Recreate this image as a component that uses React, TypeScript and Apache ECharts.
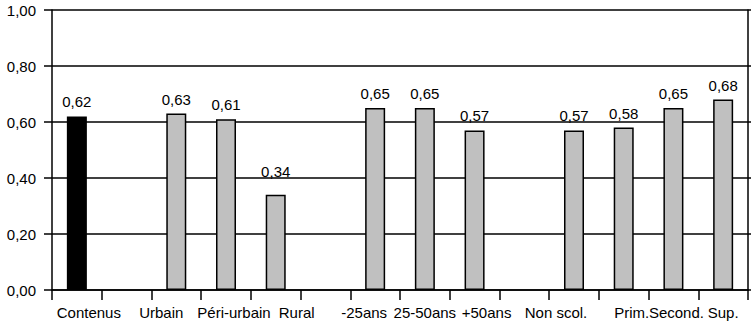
import React, { useEffect, useRef } from "react";
import * as echarts from "echarts";

const categories = [
  "Contenus", " ", "Urbain", "Péri-urbain", "Rural", "  ",
  "-25ans", "25-50ans", "+50ans", "   ",
  "Non scol.", "Prim.", "Second.", "Sup.",
];
const values: (number | null)[] = [
  0.62, null, 0.63, 0.61, 0.34, null,
  0.65, 0.65, 0.57, null,
  0.57, 0.58, 0.65, 0.68,
];
const yTicks = [0, 0.2, 0.4, 0.6, 0.8, 1.0];
// horizontal shift (px) of each category label relative to its slot centre
const labelShift = [12, 0, -15, 8, 21, 0, -11, 0, 12, 0, -18, 8, 3, 0];

const FONT = "Arial";
const FS = 15;
const fmt = (v: number) => v.toFixed(2).replace(".", ",");

export default function App() {
  const ref = useRef<HTMLDivElement>(null);
  useEffect(() => {
    document.body.style.margin = "0";
    if (!ref.current) return;
    const chart = echarts.init(ref.current, null, { renderer: "svg" });
    const rich: Record<string, any> = {};
    labelShift.forEach((s, i) => {
      rich["s" + i] = {
        fontSize: FS,
        fontFamily: FONT,
        color: "#000",
        padding: s >= 0 ? [0, 0, 0, 2 * s] : [0, -2 * s, 0, 0],
      };
    });
    chart.setOption({
      animation: false,
      backgroundColor: "#fff",
      textStyle: { fontFamily: FONT },
      grid: { left: 52, right: 5, top: 10, bottom: 36, containLabel: false },
      xAxis: {
        type: "category",
        data: categories,
        boundaryGap: true,
        axisLine: { show: true, lineStyle: { color: "#000", width: 1.5 } },
        axisTick: { show: true, length: 10, alignWithLabel: false, interval: 0, lineStyle: { color: "#000", width: 1.5 } },
        axisLabel: {
          interval: 0,
          margin: 15,
          fontFamily: FONT,
          fontSize: FS,
          formatter: (v: string, i: number) => (v.trim() === "" ? "" : `{s${i}|${v}}`),
          rich,
        },
        splitLine: { show: false },
      },
      yAxis: [
        {
          type: "value",
          min: yTicks[0],
          max: yTicks[yTicks.length - 1],
          interval: 0.2,
          position: "left",
          axisLine: { show: true, lineStyle: { color: "#000", width: 1.5 } },
          axisTick: { show: true, length: 8, lineStyle: { color: "#000", width: 1.5 } },
          axisLabel: {
            formatter: (v: number) => fmt(v),
            fontSize: FS,
            fontFamily: FONT,
            color: "#000",
            margin: 16,
          },
          splitLine: { show: true, lineStyle: { color: "#000", width: 1.5 } },
        },
        {
          type: "value",
          min: yTicks[0],
          max: yTicks[yTicks.length - 1],
          interval: 0.2,
          position: "right",
          axisLine: { show: true, lineStyle: { color: "#000", width: 1.5 } },
          axisTick: { show: true, length: 3, lineStyle: { color: "#000", width: 1.5 } },
          axisLabel: { show: false },
          splitLine: { show: false },
        },
      ],
      series: [
        {
          type: "bar",
          barWidth: 20,
          yAxisIndex: 0,
          data: values.map((v, i) =>
            v === null
              ? null
              : {
                  value: v,
                  itemStyle:
                    i === 0
                      ? { color: "#000", borderColor: "#000", borderWidth: 1.5 }
                      : { color: "#c0c0c0", borderColor: "#000", borderWidth: 1.5 },
                  label: i === 4 ? { distance: 16 } : undefined,
                }
          ),
          label: {
            show: true,
            position: "top",
            distance: 7,
            fontSize: FS,
            fontFamily: FONT,
            color: "#000",
            formatter: (p: any) => fmt(p.value),
          },
        },
      ],
    });
    return () => chart.dispose();
  }, []);
  return <div ref={ref} style={{ width: 753, height: 326 }} />;
}
